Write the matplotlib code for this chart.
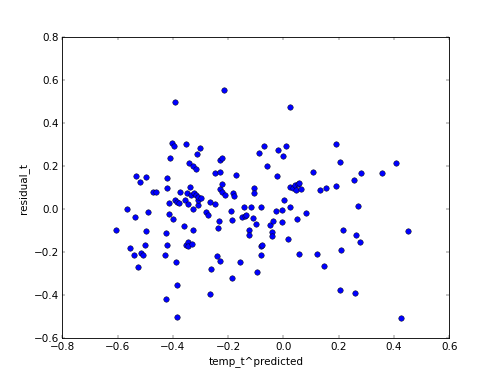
import matplotlib
matplotlib.use("Agg")
import matplotlib.pyplot as plt

# predicted temperature (x) and residuals (y)
temp_pred = [
    -0.605, -0.565, -0.554, -0.539, -0.542, -0.532, -0.526, -0.520, -0.514, -0.508,
    -0.501, -0.498, -0.497, -0.489, -0.473, -0.463, -0.430, -0.426, -0.425, -0.423,
    -0.423, -0.420, -0.415, -0.414, -0.409, -0.403, -0.400, -0.396, -0.394, -0.392,
    -0.388, -0.387, -0.386, -0.387, -0.379, -0.376, -0.359, -0.355, -0.353, -0.351,
    -0.349, -0.346, -0.347, -0.345, -0.341, -0.339, -0.334, -0.332, -0.328, -0.327,
    -0.327, -0.323, -0.317, -0.317, -0.312, -0.311, -0.310, -0.309, -0.303, -0.299,
    -0.281, -0.273, -0.266, -0.266, -0.262, -0.249, -0.246, -0.240, -0.236, -0.233,
    -0.230, -0.229, -0.230, -0.228, -0.223, -0.222, -0.221, -0.215, -0.212, -0.189,
    -0.186, -0.186, -0.181, -0.180, -0.170, -0.156, -0.151, -0.142, -0.140, -0.134,
    -0.124, -0.124, -0.117, -0.110, -0.107, -0.108, -0.101, -0.094, -0.090, -0.082,
    -0.081, -0.080, -0.078, -0.071, -0.059, -0.047, -0.043, -0.043, -0.037, -0.028,
    -0.022, -0.019, -0.007, -0.006, -0.003, 0.003, 0.010, 0.016, 0.022, 0.022,
    0.024, 0.035, 0.041, 0.044, 0.050, 0.051, 0.055, 0.057, 0.063, 0.082,
    0.108, 0.123, 0.133, 0.146, 0.155, 0.190, 0.191, 0.204, 0.205, 0.207,
    0.217, 0.256, 0.258, 0.264, 0.270, 0.277, 0.280, 0.356, 0.409, 0.425,
    0.450,
]
residual = [
    -0.096, 0.002, -0.181, -0.035, -0.212, 0.154, -0.266, 0.126, -0.203, -0.212,
    -0.168, 0.151, -0.102, -0.012, 0.083, 0.081, -0.210, -0.108, -0.418, 0.145,
    0.100, -0.168, 0.030, -0.020, 0.237, 0.310, -0.046, 0.296, 0.500, 0.044,
    -0.246, -0.353, -0.502, 0.036, 0.030, 0.083, -0.078, 0.043, -0.168, 0.302,
    0.078, -0.151, -0.171, 0.025, 0.215, 0.102, 0.066, -0.162, 0.204, 0.004,
    -0.094, 0.076, 0.188, 0.067, 0.257, 0.021, 0.044, 0.058, 0.285, 0.055,
    -0.012, -0.027, 0.036, -0.395, -0.276, 0.025, 0.168, -0.218, -0.088, -0.054,
    -0.238, 0.229, 0.176, 0.094, 0.238, 0.117, 0.080, 0.553, 0.067, -0.006,
    -0.317, -0.051, 0.075, 0.060, 0.161, -0.243, -0.037, 0.010, -0.030, -0.026,
    -0.096, -0.120, 0.010, -0.041, 0.098, 0.077, -0.066, -0.290, 0.263, 0.010,
    -0.172, -0.212, -0.167, 0.296, 0.202, -0.074, -0.103, -0.123, -0.055, -0.006,
    0.153, 0.277, -0.004, -0.058, 0.247, 0.044, 0.294, -0.137, 0.102, 0.013,
    0.474, 0.098, 0.114, 0.088, -0.043, 0.117, -0.206, 0.123, 0.095, -0.015,
    0.173, -0.209, 0.092, -0.265, 0.098, 0.302, 0.109, 0.220, -0.375, -0.190,
    -0.097, 0.137, -0.390, -0.119, 0.016, -0.153, 0.168, 0.171, 0.215, -0.505,
    -0.102,
]

plt.style.use("classic")
fig = plt.figure(figsize=(8, 6.03), dpi=62.4)
ax = fig.add_subplot(111)
ax.scatter(temp_pred, residual, s=40, c="b", edgecolors="k", linewidths=0.5)
ax.set_xlim(-0.8, 0.6)
ax.set_ylim(-0.6, 0.8)
ax.set_xlabel("temp_t^predicted")
ax.set_ylabel("residual_t")
fig.savefig("out.png", dpi=62.4)
